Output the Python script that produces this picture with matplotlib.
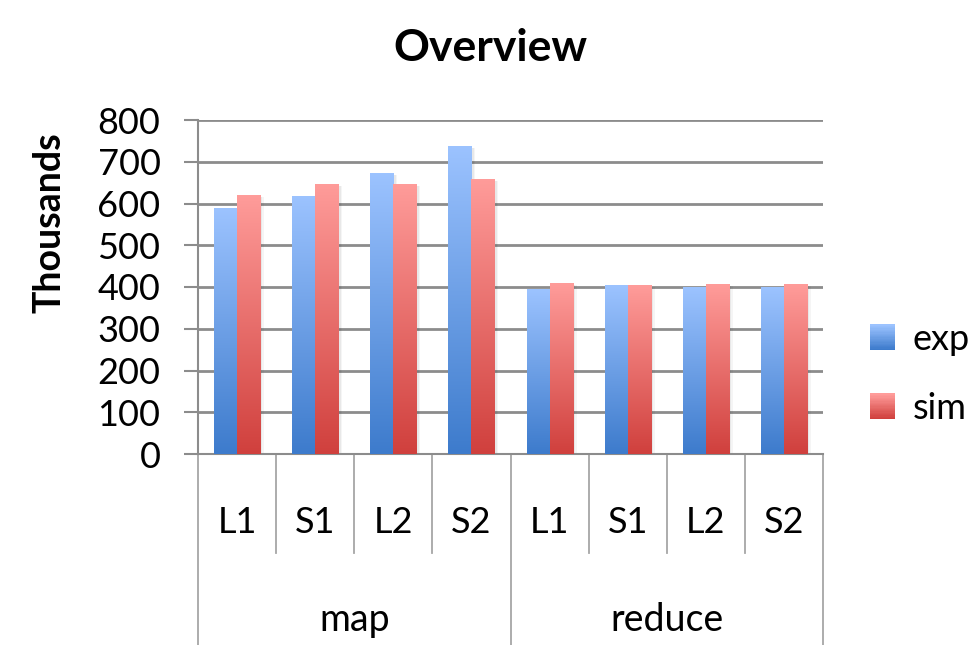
import numpy as np
import matplotlib
matplotlib.use("Agg")
import matplotlib.pyplot as plt
from matplotlib.colors import LinearSegmentedColormap
from matplotlib.patches import Rectangle
from matplotlib.legend_handler import HandlerBase
from matplotlib.transforms import blended_transform_factory

plt.rcParams['font.family'] = ['Lato', 'DejaVu Sans']

# values in thousands
groups = ["map", "reduce"]
runs = ["L1", "S1", "L2", "S2"]
exp_vals = [589, 618, 673, 738, 395, 404, 400, 400]
sim_vals = [620, 647, 647, 659, 409, 404, 407, 407]
y_ticks = [0, 100, 200, 300, 400, 500, 600, 700, 800]

exp_cmap = LinearSegmentedColormap.from_list("exp", ["#3d7bcc", "#9cc3ff"])
sim_cmap = LinearSegmentedColormap.from_list("sim", ["#d0403d", "#ff9c9a"])
grid_gray = "#8c8c8c"


class GradientHandler(HandlerBase):
    def __init__(self, cmap):
        super().__init__()
        self.cmap = cmap

    def create_artists(self, legend, orig_handle, xdescent, ydescent,
                       width, height, fontsize, trans):
        n = 20
        side = height * 1.0
        x0 = -xdescent + (width - side) / 2
        y0 = -ydescent + (height - side) / 2
        arts = []
        for i in range(n):
            r = Rectangle((x0, y0 + side * i / n), side, side / n + 0.3,
                          facecolor=self.cmap(i / (n - 1)), edgecolor="none",
                          transform=trans)
            arts.append(r)
        return arts


fig = plt.figure(figsize=(9.69, 6.45), dpi=100)
ax = fig.add_axes([198 / 969, 1 - 454 / 645, 625 / 969, 334 / 645])

n = len(exp_vals)
x = np.arange(n)
w = 0.295

grad = np.linspace(0, 1, 256).reshape(-1, 1)
handles = []
for offset, vals, cmap, name in [(-w / 2, exp_vals, exp_cmap, "exp"),
                                 (w / 2, sim_vals, sim_cmap, "sim")]:
    # soft drop shadow
    for k, a in [(0.05, 0.04), (0.03, 0.05)]:
        ax.bar(x + offset + k, vals, w, bottom=-5, color="#000000",
               alpha=a, zorder=2, linewidth=0)
    bars = ax.bar(x + offset, vals, w, color="none", linewidth=0,
                  zorder=3, label=name)
    for b in bars:
        x0, h = b.get_x(), b.get_height()
        im = ax.imshow(grad, extent=[x0, x0 + b.get_width(), 0, h],
                       origin="lower", aspect="auto", cmap=cmap, zorder=3)
        im.set_clip_path(b)
    handles.append(bars)

ax.set_xlim(-0.5, n - 0.5)
ax.set_ylim(0, 800)
ax.set_aspect("auto")

ax.set_yticks(y_ticks)
ax.yaxis.grid(True, color=grid_gray, linewidth=2)
ax.set_axisbelow(True)
ax.tick_params(axis="y", length=10, width=1.5, color=grid_gray,
               labelsize=26, pad=17)
ax.set_xticks([])
for side in ["top", "right"]:
    ax.spines[side].set_visible(False)
for side in ["left", "bottom"]:
    ax.spines[side].set_color(grid_gray)
    ax.spines[side].set_linewidth(1.5)

# two-level category axis
trans = blended_transform_factory(ax.transData, ax.transAxes)
per_group = len(runs)
for i in range(n + 1):
    xb = i - 0.5
    bottom = -0.572 if i % per_group == 0 else -0.296
    ax.plot([xb, xb], [0, bottom], color="#a6a6a6", linewidth=1.3,
            transform=trans, clip_on=False)
for i in range(n):
    ax.text(i, -0.204, runs[i % per_group], transform=trans, ha="center",
            va="center", fontsize=26)
for g, name in enumerate(groups):
    xc = g * per_group + (per_group - 1) / 2
    ax.text(xc, -0.497, name, transform=trans, ha="center", va="center",
            fontsize=27)

fig.text(50 / 969, 1 - 223 / 645, "Thousands", rotation=90, ha="center",
         va="center", fontsize=27, fontweight="bold")
fig.text(490 / 969, 1 - 48 / 645, "Overview", ha="center", va="center",
         fontsize=32, fontweight="bold")

ax.legend(handles=handles, labels=["exp", "sim"], loc="center left",
          bbox_to_anchor=(869 / 969, 1 - 374 / 645),
          bbox_transform=fig.transFigure, frameon=False, fontsize=26,
          borderaxespad=0, borderpad=0,
          handlelength=0.75, handletextpad=0.45, labelspacing=1.0,
          handler_map={handles[0]: GradientHandler(exp_cmap),
                       handles[1]: GradientHandler(sim_cmap)})

fig.savefig("out.png", dpi=100)
